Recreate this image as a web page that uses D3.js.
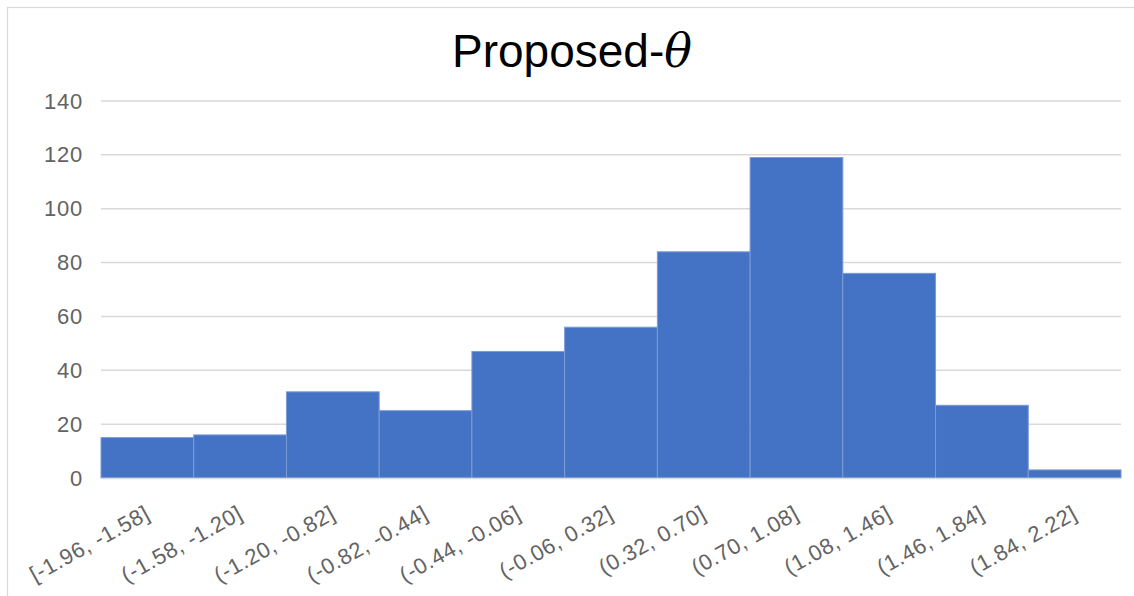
<!DOCTYPE html>
<html>
<head>
<meta charset="utf-8">
<script src="https://cdn.jsdelivr.net/npm/d3@7"></script>
<style>
  body { margin: 0; background: #fff; }
  svg { display: block; font-family: "Liberation Sans", Arial, sans-serif; }
</style>
</head>
<body>
<div id="chart"></div>
<script>
// histogram bins and counts
var bins = ["[-1.96, -1.58]", "(-1.58, -1.20]", "(-1.20, -0.82]", "(-0.82, -0.44]",
            "(-0.44, -0.06]", "(-0.06, 0.32]", "(0.32, 0.70]", "(0.70, 1.08]",
            "(1.08, 1.46]", "(1.46, 1.84]", "(1.84, 2.22]"];
var counts = [15, 16, 32, 25, 47, 56, 84, 119, 76, 27, 3];
var yTicks = [0, 20, 40, 60, 80, 100, 120, 140];

var width = 1134, height = 596;
var plotLeft = 101, plotRight = 1121, plotTop = 101, plotBottom = 478;

var svg = d3.select("#chart").append("svg")
  .attr("width", width)
  .attr("height", height);

// chart area border (only top and left show in the picture)
svg.append("rect")
  .attr("x", 7.5).attr("y", 7.5)
  .attr("width", width + 20).attr("height", height + 20)
  .attr("fill", "none")
  .attr("stroke", "#d9d9d9")
  .attr("stroke-width", 1.2);

var x = d3.scaleBand().domain(bins).range([plotLeft, plotRight]).padding(0);
var y = d3.scaleLinear().domain([0, 140]).range([plotBottom, plotTop]);

// gridlines
svg.append("g")
  .selectAll("line")
  .data(yTicks)
  .enter().append("line")
  .attr("x1", plotLeft).attr("x2", plotRight)
  .attr("y1", function(d) { return y(d); })
  .attr("y2", function(d) { return y(d); })
  .attr("stroke", "#d9d9d9")
  .attr("stroke-width", 1.5);

// y axis labels
var yAxis = d3.axisLeft(y).tickValues(yTicks).tickSize(0).tickPadding(18);
var ya = svg.append("g")
  .attr("transform", "translate(" + plotLeft + ",0)")
  .call(yAxis);
ya.select(".domain").remove();
ya.selectAll("text")
  .attr("fill", "#636363")
  .style("font-size", "22px")
  .style("letter-spacing", "0.8px")
  .style("font-family", "'Liberation Sans', Arial, sans-serif");

// bars
svg.append("g")
  .selectAll("rect")
  .data(counts)
  .enter().append("rect")
  .attr("x", function(d, i) { return x(bins[i]); })
  .attr("y", function(d) { return y(d); })
  .attr("width", x.bandwidth())
  .attr("height", function(d) { return plotBottom - y(d); })
  .attr("fill", "#4472c4")
  .attr("stroke", "#7b9bd6")
  .attr("stroke-width", 1);

// x axis baseline
svg.append("line")
  .attr("x1", plotLeft).attr("x2", plotRight)
  .attr("y1", plotBottom + 0.5).attr("y2", plotBottom + 0.5)
  .attr("stroke", "#d9d9d9")
  .attr("stroke-width", 1.5);

// category labels, rotated
svg.append("g")
  .selectAll("text")
  .data(bins)
  .enter().append("text")
  .attr("transform", function(d) {
    var cx = x(d) + x.bandwidth() / 2 + 4;
    return "translate(" + cx + "," + 518 + ") rotate(-29)";
  })
  .attr("text-anchor", "end")
  .attr("fill", "#636363")
  .style("font-size", "22px")
  .style("letter-spacing", "0.6px")
  .text(function(d) { return d; });

// title
var title = svg.append("text")
  .attr("x", 572)
  .attr("y", 67)
  .attr("text-anchor", "middle")
  .attr("fill", "#000")
  .style("font-size", "46px");
title.append("tspan").text("Proposed-");
title.append("tspan")
  .style("font-family", "'DejaVu Serif', 'Liberation Serif', serif")
  .style("font-style", "italic")
  .text("θ");
</script>
</body>
</html>
